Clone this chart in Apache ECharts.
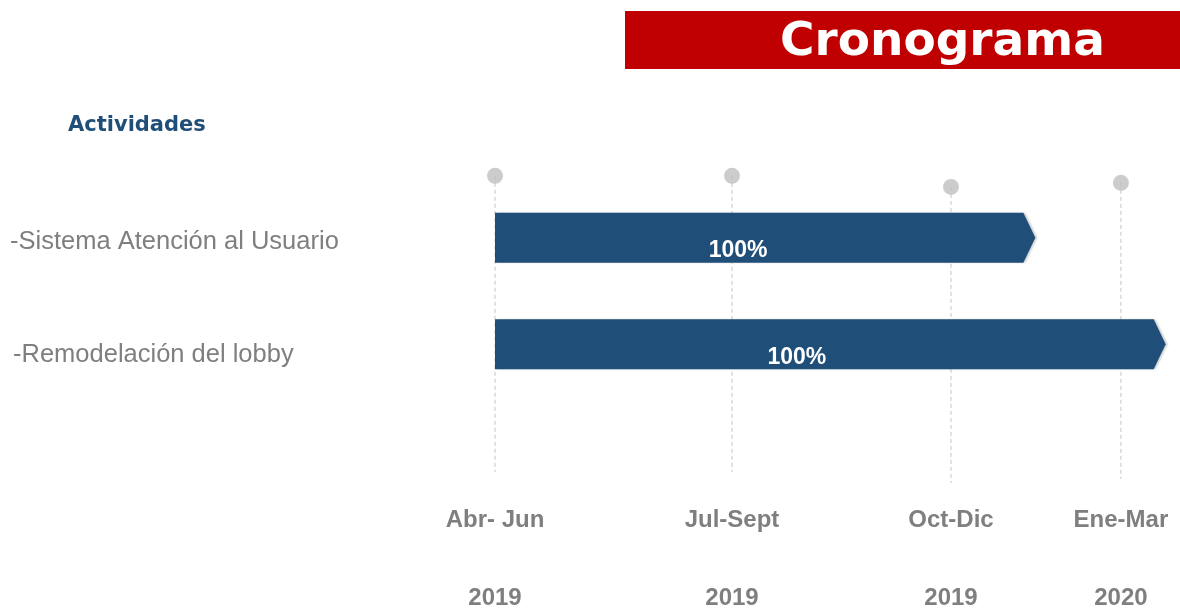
<!DOCTYPE html>
<html>
<head>
<meta charset="utf-8">
<script src="https://cdn.jsdelivr.net/npm/echarts@6/dist/echarts.min.js"></script>
<style>
  html, body { margin: 0; padding: 0; background: #fff; }
  #main { width: 1180px; height: 610px; }
</style>
</head>
<body>
<div id="main"></div>
<script>
// actividades y su avance
var activities = ['-Sistema Atención al Usuario', '-Remodelación del lobby'];
var progress = ['100%', '100%'];
var barStart = [0, 0];        // inicio de cada barra (en trimestres)
var barEnd = [2.28, 2.83];    // punta de la flecha (en trimestres)
var barRow = [1, 2];

// hitos de la línea de tiempo
var periods = ['Abr- Jun', 'Jul-Sept', 'Oct-Dic', 'Ene-Mar'];
var years = ['2019', '2019', '2019', '2020'];
var periodX = [0, 1, 1.924, 2.641];
var markerY = [0.42, 0.42, 0.524, 0.486];   // altura del punto gris
var lineEndY = [3.197, 3.197, 3.3, 3.263];  // fin de la línea punteada

// pequeño desplazamiento de los nombres de actividad
var nameDx = [10, 13];
var nameDy = [4, 11];

var myChart = echarts.init(document.getElementById('main'));

var option = {
    animation: false,
    title: [
        {
            text: 'Cronograma',
            left: 625,
            top: 11,
            backgroundColor: '#C00000',
            padding: [5, 120, 0, 155],
            textStyle: {
                color: '#fff',
                fontFamily: 'DejaVu Sans',
                fontWeight: 'bold',
                fontSize: 47,
                lineHeight: 53
            }
        },
        {
            text: 'Actividades',
            left: 68,
            top: 114,
            padding: 0,
            textStyle: {
                color: '#1F4E79',
                fontFamily: 'DejaVu Sans',
                fontWeight: 'bold',
                fontSize: 21,
                lineHeight: 24
            }
        }
    ],
    grid: { left: 495, right: 21.4, top: 131, bottom: 110 },
    xAxis: {
        type: 'value',
        min: 0,
        max: 2.8,
        axisLine: { show: false },
        axisTick: { show: false },
        splitLine: { show: false },
        axisLabel: {
            customValues: periodX,
            margin: 8,
            formatter: function (v) {
                var i = periodX.findIndex(function (p) { return Math.abs(p - v) < 1e-6; });
                if (i < 0) return '';
                return '{a|' + periods[i] + '}\n{s|}\n{a|' + years[i] + '}';
            },
            rich: {
                a: {
                    fontFamily: 'Liberation Sans',
                    fontWeight: 'bold',
                    fontSize: 24,
                    color: '#7f7f7f',
                    lineHeight: 26
                },
                s: { lineHeight: 52, fontSize: 10 }
            }
        }
    },
    yAxis: {
        type: 'value',
        inverse: true,
        min: 0,
        max: 3.45,
        show: false
    },
    series: [
        {
            // líneas punteadas verticales
            type: 'custom',
            z: 1,
            data: periodX.map(function (x, i) { return [x, markerY[i], lineEndY[i]]; }),
            renderItem: function (params, api) {
                var p0 = api.coord([api.value(0), api.value(1)]);
                var p1 = api.coord([api.value(0), api.value(2)]);
                return {
                    type: 'line',
                    shape: { x1: p0[0], y1: p0[1], x2: p1[0], y2: p1[1] },
                    style: { stroke: '#c4c4c4', lineWidth: 1, lineDash: [4, 3] }
                };
            }
        },
        {
            // puntos grises
            type: 'scatter',
            z: 2,
            symbolSize: 16,
            itemStyle: { color: '#bfbfbf' },
            data: periodX.map(function (x, i) { return [x, markerY[i]]; })
        },
        {
            // barras en forma de flecha
            type: 'custom',
            z: 3,
            data: activities.map(function (a, i) { return [barStart[i], barEnd[i], barRow[i]]; }),
            renderItem: function (params, api) {
                var i = params.dataIndex;
                var p0 = api.coord([api.value(0), api.value(2)]);
                var p1 = api.coord([api.value(1), api.value(2)]);
                var h = 50, tip = 12;
                var top = p0[1] - h / 2, bot = p0[1] + h / 2;
                return {
                    type: 'group',
                    children: [
                        {
                            type: 'polygon',
                            shape: {
                                points: [
                                    [p0[0], top], [p1[0] - tip, top], [p1[0], p0[1]],
                                    [p1[0] - tip, bot], [p0[0], bot]
                                ]
                            },
                            style: {
                                fill: '#1F4E79',
                                shadowColor: 'rgba(0,0,0,0.18)',
                                shadowOffsetX: 2,
                                shadowBlur: 2
                            }
                        },
                        {
                            type: 'text',
                            x: p0[0] + 0.45 * (p1[0] - p0[0]),
                            y: p0[1] + 13,
                            style: {
                                text: progress[i],
                                fill: '#fff',
                                fontFamily: 'Liberation Sans',
                                fontWeight: 'bold',
                                fontSize: 23,
                                align: 'center',
                                verticalAlign: 'middle'
                            }
                        },
                        {
                            type: 'text',
                            x: nameDx[i],
                            y: p0[1] + nameDy[i],
                            style: {
                                text: activities[i],
                                fill: '#7f7f7f',
                                fontFamily: 'Liberation Sans',
                                fontSize: 25.5,
                                align: 'left',
                                verticalAlign: 'middle'
                            }
                        }
                    ]
                };
            }
        }
    ]
};

myChart.setOption(option);
</script>
</body>
</html>
